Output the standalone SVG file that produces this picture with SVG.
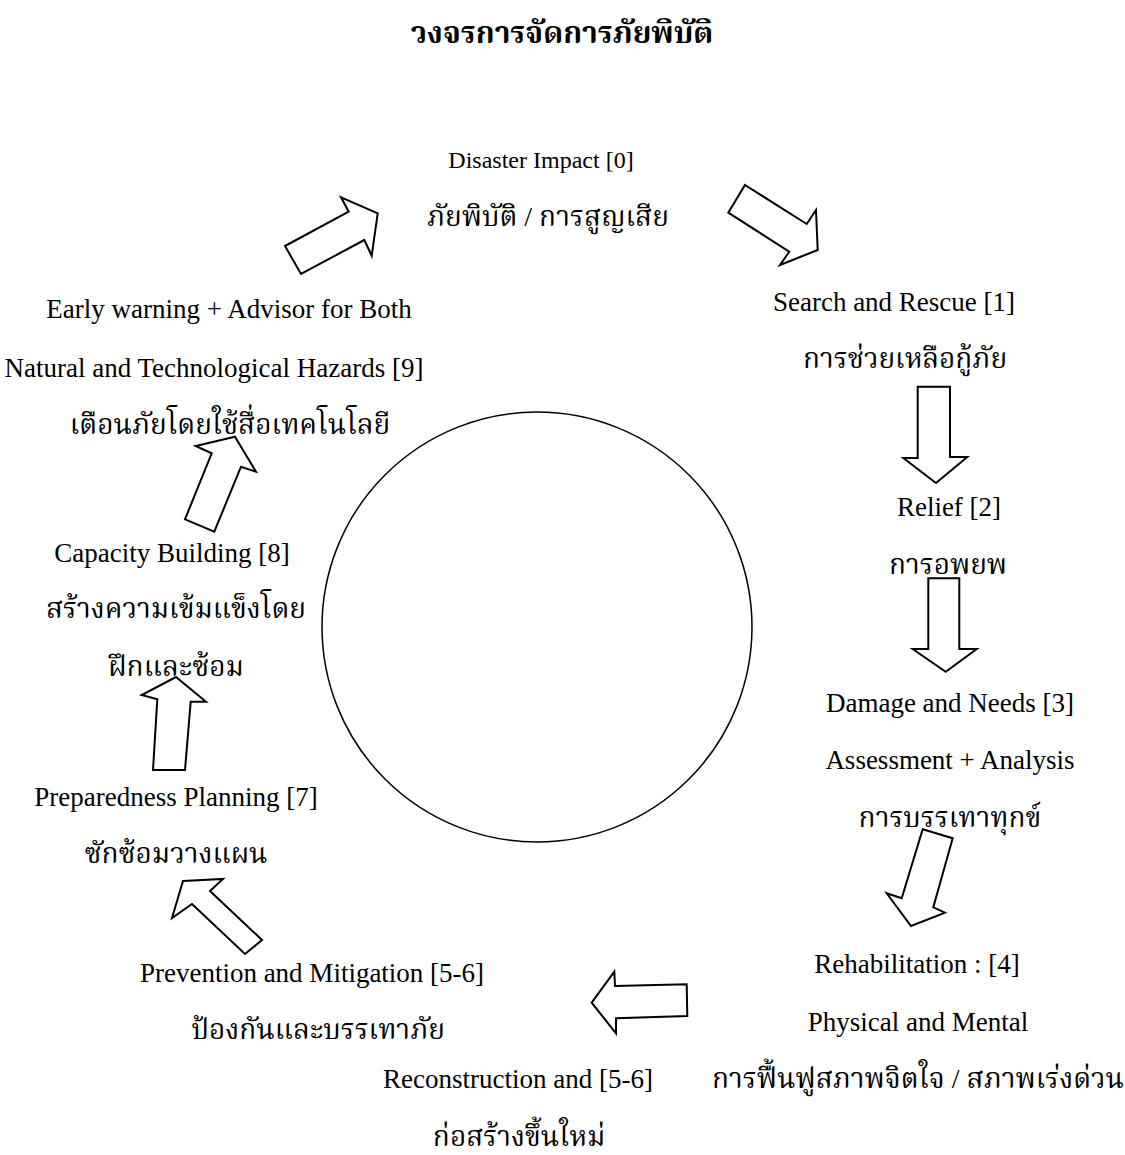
<svg xmlns="http://www.w3.org/2000/svg" width="1125" height="1155" viewBox="0 0 1125 1155">
<style>
.ar{fill:#fff;stroke:#000;stroke-width:2;stroke-linejoin:miter}
.en{font-family:"Liberation Serif","Times New Roman",serif;font-size:27px;fill:#000;text-anchor:middle}
.th{font-family:"Liberation Serif","Noto Serif Thai","Noto Sans Thai",serif;font-size:28px;fill:#000;text-anchor:middle}
.title{font-family:"Liberation Serif","Noto Serif Thai","Noto Sans Thai",serif;font-size:30px;font-weight:bold;fill:#000;text-anchor:middle}
</style>
<rect width="1125" height="1155" fill="#fff"/>
<g id="circle"><circle cx="537" cy="627" r="215" fill="none" stroke="#000" stroke-width="1.5"/></g>
<g id="connectors">
<polygon class="ar" points="285,246 348.7,211.7 341,197.3 377.7,213.3 371.7,255.7 364.3,240 301,274"/>
<polygon class="ar" points="745,185 806.7,224 816,210 817.7,250 780,265 789.3,251.7 728.3,212.7"/>
<polygon class="ar" points="917.7,386.7 950,386.7 950,457 967.3,457 936,483 903.3,458 917.7,458"/>
<polygon class="ar" points="928.3,578.3 959.3,578.3 959.3,649 976.7,649 945.7,671.7 912.7,649 928.3,649"/>
<polygon class="ar" points="922.7,829.3 952.7,838.3 933.3,907.3 945,912.7 911,926 886.7,893.3 901.7,898.3"/>
<polygon class="ar" points="591.7,1002.7 614.3,971.7 615,986 686.7,984.3 687.3,1016 616,1018.3 616,1033.3"/>
<polygon class="ar" points="183,881 223,879 210,891 262,940 245,954 192,904 172,918"/>
<polygon class="ar" points="176,677 206,701.7 190.7,701.7 185,770 153,770 157.3,699.3 141.7,695"/>
<polygon class="ar" points="235,436.7 256,471.7 241,466.7 214.3,531.7 185,519.3 211.7,453.3 195.7,446"/>
</g>
<g id="title"><text class="title" x="562" y="43">วงจรการจัดการภัยพิบัติ</text></g>
<g id="n0"><text class="en" x="541" y="168" style="font-size:24px">Disaster Impact [0]</text><text class="th" x="548" y="226">ภัยพิบัติ / การสูญเสีย</text></g>
<g id="n1"><text class="en" x="894" y="311">Search and Rescue [1]</text><text class="th" x="905" y="368">การช่วยเหลือกู้ภัย</text></g>
<g id="n2"><text class="en" x="949" y="516">Relief [2]</text><text class="th" x="948" y="574">การอพยพ</text></g>
<g id="n3"><text class="en" x="950" y="712">Damage and Needs [3]</text><text class="en" x="950" y="769">Assessment + Analysis</text><text class="th" x="950" y="827">การบรรเทาทุกข์</text></g>
<g id="n4"><text class="en" x="917" y="973">Rehabilitation : [4]</text><text class="en" x="918" y="1031">Physical and Mental</text><text class="th" x="918" y="1088">การฟื้นฟูสภาพจิตใจ / สภาพเร่งด่วน</text></g>
<g id="n56a"><text class="en" x="518" y="1088">Reconstruction and [5-6]</text><text class="th" x="519" y="1146">ก่อสร้างขึ้นใหม่</text></g>
<g id="n56b"><text class="en" x="312" y="982">Prevention and Mitigation [5-6]</text><text class="th" x="318" y="1039">ป้องกันและบรรเทาภัย</text></g>
<g id="n7"><text class="en" x="176" y="806">Preparedness Planning [7]</text><text class="th" x="176" y="863">ซักซ้อมวางแผน</text></g>
<g id="n8"><text class="en" x="172" y="562">Capacity Building [8]</text><text class="th" x="176" y="618">สร้างความเข้มแข็งโดย</text><text class="th" x="176" y="676">ฝึกและซ้อม</text></g>
<g id="n9"><text class="en" x="229" y="318">Early warning + Advisor for Both</text><text class="en" x="214" y="377">Natural and Technological Hazards [9]</text><text class="th" x="230" y="434">เตือนภัยโดยใช้สื่อเทคโนโลยี</text></g>
</svg>
